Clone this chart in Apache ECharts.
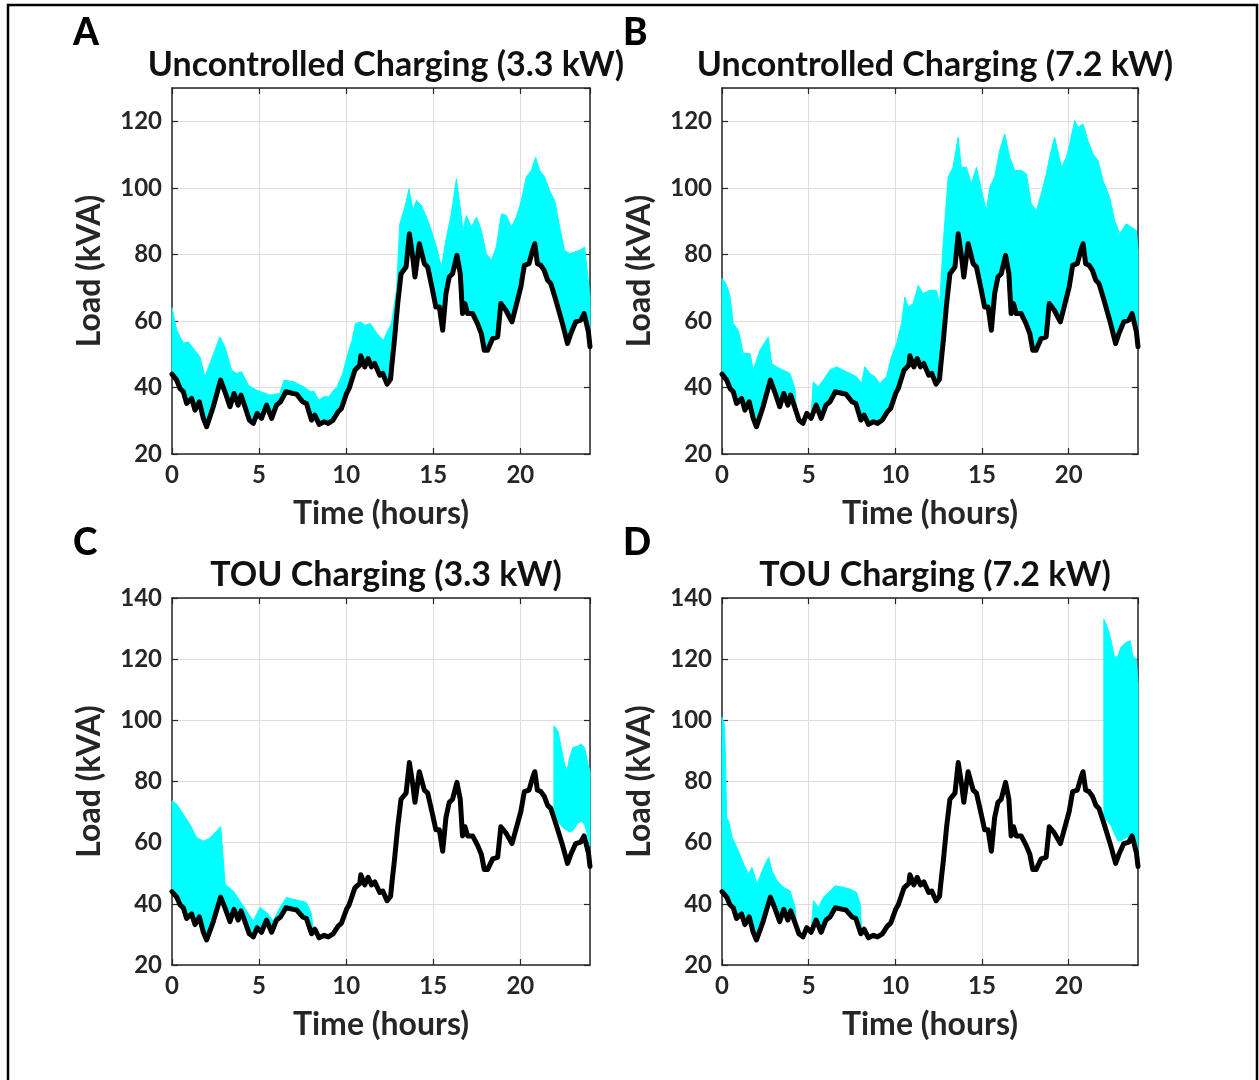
<!DOCTYPE html>
<html>
<head>
<meta charset="utf-8">
<title>EV charging load profiles</title>
<script src="https://cdn.jsdelivr.net/npm/echarts@6/dist/echarts.min.js"></script>
<style>
  html, body { margin: 0; padding: 0; background: #ffffff; }
  #chart { width: 1259px; height: 1080px; }
</style>
</head>
<body>
<div id="chart"></div>
<script>
// Base transformer load (no EV charging), kVA over the day
const baseHours = [0.00,0.27,0.46,0.65,0.84,1.13,1.32,1.57,1.80,1.99,2.37,2.79,3.04,3.33,3.56,3.80,3.96,4.19,4.44,4.67,4.89,5.14,5.43,5.72,6.00,6.23,6.54,6.96,7.15,7.50,7.72,8.01,8.20,8.45,8.74,8.97,9.25,9.54,9.73,10.02,10.17,10.50,10.78,10.84,11.07,11.26,11.45,11.64,11.93,12.10,12.35,12.55,12.62,12.77,12.96,13.15,13.44,13.63,13.82,13.95,14.20,14.49,14.68,14.96,15.15,15.35,15.54,15.73,15.92,16.11,16.36,16.55,16.68,16.82,16.97,17.26,17.54,17.76,17.93,18.12,18.41,18.70,18.88,19.17,19.52,19.74,20.03,20.23,20.50,20.70,20.83,20.98,21.18,21.37,21.57,21.75,22.04,22.42,22.71,22.90,23.18,23.47,23.66,23.91,24.00];
const baseLoad = [44.0,42.2,39.7,38.7,35.2,36.7,33.2,35.7,30.7,28.2,34.2,42.2,38.7,34.2,38.2,34.7,37.7,34.2,30.2,29.2,32.2,30.7,34.7,30.7,34.7,35.7,38.7,38.2,38.0,35.7,35.2,30.2,31.7,28.9,29.7,29.2,30.2,32.7,33.7,38.2,39.7,45.2,46.7,49.5,46.2,48.7,46.2,47.2,43.7,44.2,41.0,42.5,46.5,54.2,65.2,74.2,76.2,86.2,79.2,73.2,83.2,77.2,76.2,69.2,64.2,64.2,57.2,68.2,73.2,74.2,79.7,74.2,62.2,65.2,62.2,62.2,59.2,56.2,51.2,51.2,54.7,55.2,65.2,63.2,59.7,64.2,70.2,76.7,77.2,81.2,83.2,77.2,76.7,75.2,72.2,71.2,66.2,59.2,53.2,56.2,59.7,60.2,62.2,56.7,52.2];

// Upper envelope of the simulated loads: uncontrolled, 3.3 kW
const aHours = [0.00,0.27,0.65,0.94,1.22,1.60,1.89,2.18,2.75,3.04,3.42,3.71,4.00,4.38,4.85,5.20,5.62,6.20,6.42,6.99,7.57,7.95,8.14,8.43,8.72,9.00,9.29,9.48,9.77,10.05,10.34,10.53,10.82,11.10,11.39,11.77,12.15,12.31,12.60,12.89,13.08,13.37,13.61,13.84,14.03,14.32,14.61,14.89,15.18,15.47,15.76,16.04,16.33,16.52,16.71,16.90,17.19,17.48,17.76,18.05,18.34,18.62,18.91,19.20,19.48,19.77,20.06,20.34,20.63,20.88,21.11,21.40,21.68,21.97,22.26,22.54,22.83,23.12,23.40,23.69,23.88,24.00];
const aUpper = [64.0,57.2,53.3,53.7,51.8,49.2,43.2,47.2,55.2,52.2,45.2,44.2,44.7,40.7,39.2,38.5,37.7,38.2,42.2,41.7,40.2,38.7,38.9,36.2,37.2,37.2,39.2,40.2,43.7,49.2,54.2,59.2,59.7,58.7,59.2,56.2,54.2,56.2,59.2,69.2,89.2,94.2,99.7,93.2,96.2,94.7,91.2,87.2,82.2,76.2,85.2,92.2,102.7,95.2,87.2,91.7,88.2,91.2,87.2,80.2,78.2,82.2,92.2,91.7,88.2,91.2,96.2,103.2,105.2,109.2,105.2,103.2,99.2,96.2,88.2,81.2,80.2,80.7,81.2,82.2,73.2,67.2];

// Uncontrolled, 7.2 kW
const bEarlyHours = [0.00,0.17,0.37,0.46,0.65,0.94,1.23,1.61,1.81,2.19,2.67,2.86,3.15,3.54,3.92,4.21,4.30];
const bEarlyUpper = [72.7,71.7,69.2,67.2,59.2,57.2,50.2,50.2,45.2,51.2,55.2,47.2,46.2,45.2,44.2,39.7,33.0];
const bLateHours = [5.14,5.26,5.55,5.84,6.22,6.61,6.99,7.38,7.76,8.05,8.24,8.53,8.82,9.11,9.49,9.78,10.07,10.36,10.55,10.74,11.03,11.32,11.60,11.99,12.37,12.56,12.76,13.05,13.33,13.62,13.81,14.10,14.39,14.68,14.97,15.25,15.45,15.73,16.02,16.31,16.60,16.89,17.27,17.56,17.84,18.14,18.42,18.71,18.90,19.19,19.58,19.87,20.06,20.35,20.54,20.83,21.11,21.40,21.69,21.98,22.36,22.65,22.94,23.32,23.61,23.90,24.00];
const bLateUpper = [30.7,41.7,40.2,42.2,45.2,46.2,45.2,44.2,43.2,41.2,46.2,44.2,43.2,41.2,43.2,49.2,53.2,59.2,67.2,64.2,65.2,70.7,68.2,69.2,69.2,65.2,83.2,103.2,106.2,115.2,106.2,106.2,101.2,106.2,99.2,93.2,100.2,103.2,111.2,116.2,109.2,105.2,105.2,104.2,95.2,93.2,98.2,104.2,109.2,115.2,106.2,109.2,113.2,120.2,118.2,119.2,114.2,110.2,108.2,102.2,97.2,90.2,86.2,89.2,88.2,87.2,81.2];

// TOU, 3.3 kW
const cEarlyHours = [0.00,0.27,0.65,1.03,1.41,1.80,2.18,2.50,2.80,3.05,3.52,3.90,4.28,4.67,5.05,5.43,5.81,6.20,6.58,6.96,7.34,7.72,8.01,8.10];
const cEarlyUpper = [73.7,72.6,69.3,66.0,61.7,60.5,61.5,63.5,65.2,46.4,44.2,41.0,37.7,34.4,38.8,37.2,34.4,38.8,42.1,41.5,41.0,40.4,36.6,31.0];
const cLateHours = [21.93,22.16,22.35,22.54,22.68,22.83,23.02,23.31,23.50,23.69,23.88,24.00];
const cLateUpper = [98.2,96.5,91.1,85.6,83.5,87.8,91.1,91.6,92.2,91.1,85.6,83.5];
const cLateLower = [70.0,67.0,65.5,64.5,64.0,63.5,64.0,66.5,67.0,66.0,62.0,59.0];

// TOU, 7.2 kW
const dEarlyHours = [0.00,0.12,0.18,0.27,0.38,0.58,0.86,1.25,1.54,1.73,2.02,2.40,2.69,2.88,3.17,3.55,3.93,4.22,4.30];
const dEarlyUpper = [101.0,99.0,92.2,68.2,67.1,61.7,58.4,53.0,49.7,51.9,46.5,51.9,55.2,50.8,47.6,45.4,44.2,38.8,33.0];
const dMidHours = [5.14,5.28,5.57,5.85,6.24,6.53,7.00,7.39,7.77,7.97,8.06];
const dMidUpper = [30.7,41.0,38.8,42.1,44.2,45.9,45.4,44.8,43.7,40.0,31.0];
const dLateHours = [22.03,22.26,22.45,22.65,22.84,23.03,23.32,23.55,23.70,23.90,24.00];
const dLateUpper = [133.0,130.0,126.0,120.5,121.0,124.0,125.5,126.0,121.0,120.0,112.0];
const dLateLower = [68.0,67.0,65.5,62.8,60.6,60.6,61.7,62.0,62.0,59.5,55.0];

const xTicks = { min: 0, max: 24, interval: 5 };
const panelTitles = ['Uncontrolled Charging (3.3 kW)', 'Uncontrolled Charging (7.2 kW)', 'TOU Charging (3.3 kW)', 'TOU Charging (7.2 kW)'];
const panelLetters = ['A', 'B', 'C', 'D'];
const yMaxes = [130, 130, 140, 140];

// Band pieces per panel; a piece without its own lower edge sits on the base load
const panelBands = [
  [{ h: aHours, up: aUpper }],
  [{ h: bEarlyHours, up: bEarlyUpper }, { h: bLateHours, up: bLateUpper }],
  [{ h: cEarlyHours, up: cEarlyUpper }, { h: cLateHours, up: cLateUpper, lo: cLateLower }],
  [{ h: dEarlyHours, up: dEarlyUpper }, { h: dMidHours, up: dMidUpper }, { h: dLateHours, up: dLateUpper, lo: dLateLower }]
];

const FONT = 'Lato';
const INK = '#262626';
const CYAN = '#00FFFF';

const gridBoxes = [
  { left: 172, top: 88, width: 418, height: 366 },
  { left: 722, top: 88, width: 416, height: 366 },
  { left: 172, top: 598, width: 418, height: 367 },
  { left: 722, top: 598, width: 416, height: 367 }
];

function bandPoints(piece) {
  const upper = piece.h.map((h, i) => [h, piece.up[i]]);
  let lower;
  if (piece.lo) {
    lower = piece.h.map((h, i) => [h, piece.lo[i]]);
  } else {
    const h0 = piece.h[0], h1 = piece.h[piece.h.length - 1];
    lower = [];
    baseHours.forEach((h, i) => { if (h >= h0 && h <= h1) lower.push([h, baseLoad[i]]); });
  }
  return upper.concat(lower.reverse());
}

const basePairs = baseHours.map((h, i) => [h, baseLoad[i]]);

const grid = [], xAxis = [], yAxis = [], series = [], title = [];

gridBoxes.forEach((g, p) => {
  grid.push(Object.assign({ containLabel: false }, g));
  const axisLine = { show: true, onZero: false, lineStyle: { color: INK, width: 1.5 } };
  const tick = { show: true, inside: true, length: 6, lineStyle: { color: INK, width: 1.2 } };
  const labelStyle = { color: INK, fontFamily: FONT, fontWeight: 'bold', fontSize: 24 };
  xAxis.push({
    gridIndex: p, type: 'value', position: 'bottom',
    min: xTicks.min, max: xTicks.max, interval: xTicks.interval,
    axisLine, axisTick: tick,
    axisLabel: Object.assign({ margin: 9, showMaxLabel: false }, labelStyle),
    splitLine: { show: true, lineStyle: { color: '#dedede', width: 1 } },
    name: 'Time (hours)', nameLocation: 'middle', nameGap: 44,
    nameTextStyle: { color: INK, fontFamily: FONT, fontWeight: 'bold', fontSize: 32 }
  });
  xAxis.push({
    gridIndex: p, type: 'value', position: 'top',
    min: xTicks.min, max: xTicks.max, interval: xTicks.interval,
    axisLine, axisTick: tick, axisLabel: { show: false }, splitLine: { show: false }
  });
  yAxis.push({
    gridIndex: p, type: 'value', position: 'left',
    min: 20, max: yMaxes[p], interval: 20,
    axisLine, axisTick: tick,
    axisLabel: Object.assign({ margin: 10, showMaxLabel: yMaxes[p] % 20 === 0 }, labelStyle),
    splitLine: { show: true, lineStyle: { color: '#dedede', width: 1 } },
    name: 'Load (kVA)', nameLocation: 'middle', nameGap: 66, nameRotate: 90,
    nameTextStyle: { color: INK, fontFamily: FONT, fontWeight: 'bold', fontSize: 32 }
  });
  yAxis.push({
    gridIndex: p, type: 'value', position: 'right',
    min: 20, max: yMaxes[p], interval: 20,
    axisLine, axisTick: tick, axisLabel: { show: false }, splitLine: { show: false }
  });

  const pieces = panelBands[p].map(bandPoints);
  series.push({
    type: 'custom', name: 'Simulated load ' + panelLetters[p],
    xAxisIndex: 2 * p, yAxisIndex: 2 * p, silent: true, z: 2,
    data: [[0, 20]],
    renderItem: function (params, api) {
      return {
        type: 'group',
        children: pieces.map(pts => ({
          type: 'polygon',
          shape: { points: pts.map(pt => api.coord(pt)) },
          style: { fill: CYAN, stroke: CYAN, lineWidth: 1 }
        }))
      };
    }
  });
  series.push({
    type: 'line', name: 'Base load ' + panelLetters[p],
    xAxisIndex: 2 * p, yAxisIndex: 2 * p, z: 3,
    data: basePairs, showSymbol: false, smooth: false, silent: true,
    lineStyle: { color: '#000000', width: 5, join: 'round', cap: 'round' }
  });

  title.push({
    text: panelTitles[p], left: g.left + g.width / 2, textAlign: 'center',
    top: g.top - 45,
    textStyle: { color: '#111111', fontFamily: FONT, fontWeight: 'bold', fontSize: 34 }
  });
  title.push({
    text: panelLetters[p], left: g.left - 104, top: g.top - 78,
    textStyle: { color: '#000000', fontFamily: FONT, fontWeight: 900, fontSize: 37 }
  });
});

const chart = echarts.init(document.getElementById('chart'), null, { renderer: 'canvas' });
chart.setOption({
  backgroundColor: '#ffffff',
  animation: false,
  title, grid, xAxis, yAxis, series,
  graphic: [{
    type: 'rect', silent: true, z: 100,
    shape: { x: 8, y: 5, width: 1249, height: 1095 },
    style: { fill: 'none', stroke: '#000000', lineWidth: 2.5 }
  }]
});
</script>
</body>
</html>
